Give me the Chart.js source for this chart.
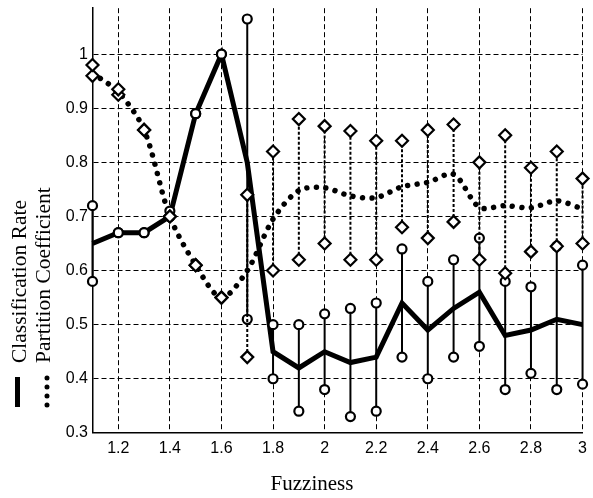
<!DOCTYPE html>
<html>
<head>
<meta charset="utf-8">
<script src="https://cdn.jsdelivr.net/npm/chart.js@4/dist/chart.umd.min.js"></script>
<style>
  html, body { margin: 0; padding: 0; background: #fff; }
  #c { display: block; }
</style>
</head>
<body>
<canvas id="c" width="593" height="498"></canvas>
<script>
// ---- data ----
const fuzziness = [1.1, 1.2, 1.3, 1.4, 1.5, 1.6, 1.7, 1.8, 1.9, 2.0, 2.1, 2.2, 2.3, 2.4, 2.5, 2.6, 2.7, 2.8, 2.9, 3.0];

const classRate     = [0.65, 0.67, 0.67, 0.70, 0.89, 1.00, 0.80, 0.45, 0.42, 0.45, 0.43, 0.44, 0.54, 0.49, 0.53, 0.56, 0.48, 0.49, 0.51, 0.50];
const classRateLow  = [0.58, 0.67, 0.67, 0.70, 0.89, 1.00, 0.51, 0.40, 0.34, 0.38, 0.33, 0.34, 0.44, 0.40, 0.44, 0.46, 0.38, 0.41, 0.38, 0.39];
const classRateHigh = [0.72, 0.67, 0.67, 0.71, 0.89, 1.00, 1.065, 0.50, 0.50, 0.52, 0.53, 0.54, 0.64, 0.58, 0.62, 0.66, 0.58, 0.57, 0.645, 0.61];

const partCoef     = [0.965, 0.93, 0.86, 0.70, 0.61, 0.55, 0.60, 0.695, 0.748, 0.753, 0.738, 0.735, 0.755, 0.763, 0.778, 0.717, 0.72, 0.716, 0.729, 0.714];
const partCoefLow  = [0.96, 0.925, 0.86, 0.70, 0.61, 0.55, 0.44, 0.60, 0.62, 0.65, 0.62, 0.62, 0.68, 0.66, 0.69, 0.62, 0.595, 0.635, 0.645, 0.65];
const partCoefHigh = [0.98, 0.935, 0.86, 0.70, 0.61, 0.55, 0.74, 0.82, 0.88, 0.867, 0.858, 0.84, 0.84, 0.86, 0.87, 0.80, 0.85, 0.79, 0.82, 0.77];

const xTickValues = [1.2, 1.4, 1.6, 1.8, 2.0, 2.2, 2.4, 2.6, 2.8, 3.0];
const xTickLabels = ['1.2', '1.4', '1.6', '1.8', '2', '2.2', '2.4', '2.6', '2.8', '3'];
const yTickValues = [0.3, 0.4, 0.5, 0.6, 0.7, 0.8, 0.9, 1.0];
const yTickLabels = ['0.3', '0.4', '0.5', '0.6', '0.7', '0.8', '0.9', '1'];

const seriesNames = ['Classification Rate', 'Partition Coefficient'];
const xTitle = 'Fuzziness';

// ---- datasets ----
const datasets = [];
datasets.push({
  label: seriesNames[0],
  data: fuzziness.map((x, i) => ({ x, y: classRate[i] })),
  showLine: true, borderColor: '#000', borderWidth: 5, pointRadius: 0,
  tension: 0, order: 1, clip: false
});
datasets.push({
  label: seriesNames[1],
  data: fuzziness.map((x, i) => ({ x, y: partCoef[i] })),
  showLine: true, borderColor: '#000', borderWidth: 5.5, borderDash: [0.01, 9.5],
  borderCapStyle: 'round', pointRadius: 0, tension: 0.3, order: 1, clip: false
});
fuzziness.forEach((x, i) => {
  datasets.push({
    label: '',
    data: [{ x, y: partCoefLow[i] }, { x, y: partCoefHigh[i] }],
    showLine: true, borderColor: '#000', borderWidth: 2, borderDash: [3, 2],
    pointStyle: 'rectRot', pointRadius: 6, pointBorderWidth: 2.2,
    pointBackgroundColor: '#fff', pointBorderColor: '#000', order: 0, clip: false
  });
});
fuzziness.forEach((x, i) => {
  datasets.push({
    label: '',
    data: [{ x, y: classRateLow[i] }, { x, y: classRateHigh[i] }],
    showLine: true, borderColor: '#000', borderWidth: 2,
    pointStyle: 'circle', pointRadius: 4.5, pointBorderWidth: 2.2,
    pointBackgroundColor: '#fff', pointBorderColor: '#000', order: 0, clip: false
  });
});

// ---- rotated legend on the left ----
const sideLegend = {
  id: 'sideLegend',
  afterDraw(chart, args, opts) {
    const ctx = chart.ctx;
    const items = [
      { ds: chart.data.datasets[0], lineX: 17.5, textX: 26 },
      { ds: chart.data.datasets[1], lineX: 47, textX: 50 }
    ];
    items.forEach(it => {
      ctx.save();
      ctx.translate(0, opts.baseY);
      ctx.rotate(-Math.PI / 2);
      ctx.beginPath();
      ctx.strokeStyle = it.ds.borderColor;
      ctx.lineWidth = 5;
      if (it.ds.borderDash) {
        ctx.setLineDash([0.01, 9]);
        ctx.lineCap = 'round';
        ctx.moveTo(2, it.lineX);
        ctx.lineTo(32, it.lineX);
      } else {
        ctx.lineCap = 'butt';
        ctx.moveTo(0, it.lineX);
        ctx.lineTo(30, it.lineX);
      }
      ctx.stroke();
      ctx.setLineDash([]);
      ctx.fillStyle = '#000';
      ctx.font = opts.font;
      ctx.textBaseline = 'alphabetic';
      ctx.textAlign = 'left';
      ctx.fillText(it.ds.label, opts.textOffset, it.textX);
      ctx.restore();
    });
  }
};

const tickFont = { family: "'Liberation Sans', Arial, sans-serif", size: 16 };

new Chart(document.getElementById('c'), {
  type: 'scatter',
  data: { datasets },
  plugins: [sideLegend],
  options: {
    responsive: false,
    animation: false,
    events: [],
    layout: { padding: { left: 40, right: 9, top: 0, bottom: 1 } },
    plugins: {
      legend: { display: false },
      tooltip: { enabled: false },
      title: {
        display: true, text: xTitle, position: 'bottom', color: '#000', padding: 0,
        font: { family: "'Liberation Serif', 'Times New Roman', serif", size: 21, weight: 'normal', lineHeight: 1.15 }
      },
      sideLegend: {
        baseY: 407, textOffset: 44,
        font: "21.5px 'Liberation Serif', 'Times New Roman', serif"
      }
    },
    scales: {
      x: {
        type: 'linear', min: 1.1, max: 3.0,
        afterBuildTicks: s => { s.ticks = xTickValues.map(v => ({ value: v })); },
        afterFit: s => { s.height = 40; },
        ticks: {
          color: '#000', font: tickFont, padding: 6, maxRotation: 0, autoSkip: false,
          callback: (v, i) => xTickLabels[i]
        },
        grid: { color: '#000', lineWidth: 1, drawTicks: false },
        border: { color: '#000', width: 1.5, dash: [5, 3] }
      },
      y: {
        type: 'linear', min: 0.3, max: 1.085,
        afterBuildTicks: s => { s.ticks = yTickValues.map(v => ({ value: v })); },
        afterFit: s => { s.width = 52.5; },
        ticks: {
          color: '#000', font: { family: "'Liberation Sans', Arial, sans-serif", size: 16, lineHeight: 0.3 },
          padding: 4.5, autoSkip: false,
          callback: (v, i) => yTickLabels[i]
        },
        grid: { color: '#000', lineWidth: 1, drawTicks: false },
        border: { color: '#000', width: 1.5, dash: [5, 3] }
      }
    }
  }
});
</script>
</body>
</html>
